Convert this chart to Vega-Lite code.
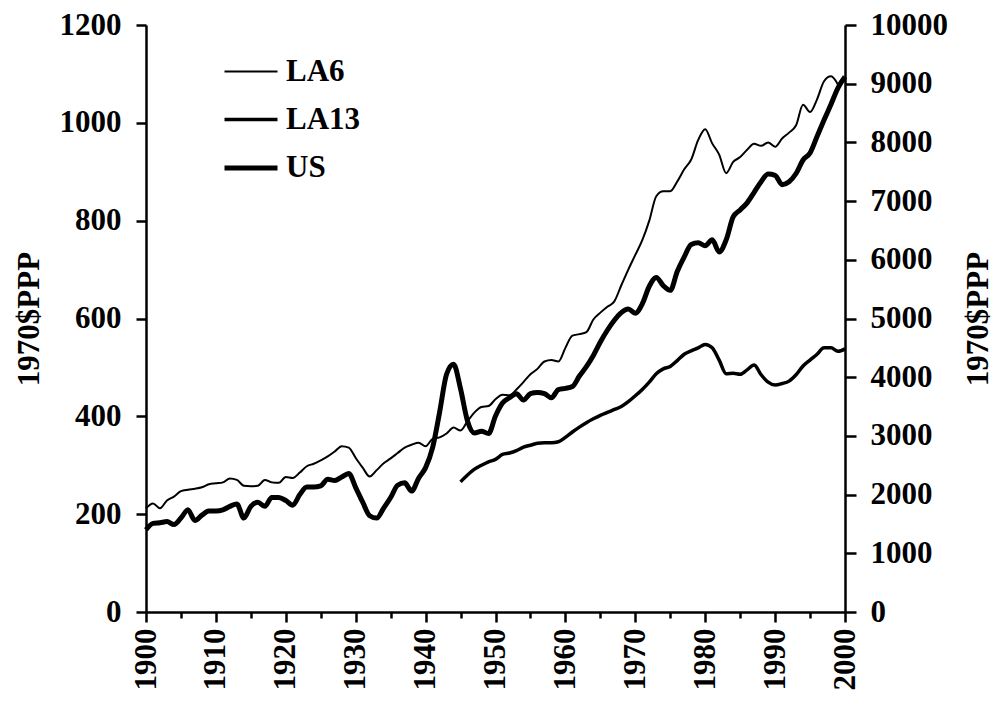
{
  "$schema": "https://vega.github.io/schema/vega-lite/v6.json",
  "width": 699,
  "height": 587,
  "autosize": "none",
  "padding": {"left": 146, "top": 25, "right": 150, "bottom": 93},
  "background": "white",
  "config": {
    "view": {"stroke": null},
    "font": "Liberation Serif",
    "axis": {
      "grid": false,
      "domainColor": "black",
      "domainWidth": 2.5,
      "tickColor": "black",
      "tickWidth": 2.5,
      "labelFont": "Liberation Serif",
      "labelFontWeight": "bold",
      "labelFontSize": 31,
      "labelColor": "black",
      "titleFont": "Liberation Serif",
      "titleFontWeight": "bold",
      "titleFontSize": 31,
      "titleColor": "black"
    },
    "legend": {
      "labelFont": "Liberation Serif",
      "labelFontWeight": "bold",
      "labelFontSize": 31,
      "labelColor": "black"
    }
  },
  "data": {"values": [
    {"series":"LA6","year":1900,"value":212},{"series":"LA6","year":1901,"value":222},{"series":"LA6","year":1902,"value":212},{"series":"LA6","year":1903,"value":228},{"series":"LA6","year":1904,"value":236},
    {"series":"LA6","year":1905,"value":247},{"series":"LA6","year":1906,"value":250},{"series":"LA6","year":1907,"value":252},{"series":"LA6","year":1908,"value":255},{"series":"LA6","year":1909,"value":261},
    {"series":"LA6","year":1910,"value":263},{"series":"LA6","year":1911,"value":265},{"series":"LA6","year":1912,"value":273},{"series":"LA6","year":1913,"value":270},{"series":"LA6","year":1914,"value":258},
    {"series":"LA6","year":1915,"value":257},{"series":"LA6","year":1916,"value":258},{"series":"LA6","year":1917,"value":270},{"series":"LA6","year":1918,"value":265},{"series":"LA6","year":1919,"value":264},
    {"series":"LA6","year":1920,"value":276},{"series":"LA6","year":1921,"value":274},{"series":"LA6","year":1922,"value":285},{"series":"LA6","year":1923,"value":298},{"series":"LA6","year":1924,"value":303},
    {"series":"LA6","year":1925,"value":310},{"series":"LA6","year":1926,"value":318},{"series":"LA6","year":1927,"value":328},{"series":"LA6","year":1928,"value":339},{"series":"LA6","year":1929,"value":336},
    {"series":"LA6","year":1930,"value":315},{"series":"LA6","year":1931,"value":295},{"series":"LA6","year":1932,"value":277},{"series":"LA6","year":1933,"value":290},{"series":"LA6","year":1934,"value":304},
    {"series":"LA6","year":1935,"value":314},{"series":"LA6","year":1936,"value":325},{"series":"LA6","year":1937,"value":336},{"series":"LA6","year":1938,"value":342},{"series":"LA6","year":1939,"value":346},
    {"series":"LA6","year":1940,"value":339},{"series":"LA6","year":1941,"value":354},{"series":"LA6","year":1942,"value":357},{"series":"LA6","year":1943,"value":365},{"series":"LA6","year":1944,"value":377},
    {"series":"LA6","year":1945,"value":371},{"series":"LA6","year":1946,"value":390},{"series":"LA6","year":1947,"value":408},{"series":"LA6","year":1948,"value":419},{"series":"LA6","year":1949,"value":421},
    {"series":"LA6","year":1950,"value":435},{"series":"LA6","year":1951,"value":444},{"series":"LA6","year":1952,"value":443},{"series":"LA6","year":1953,"value":455},{"series":"LA6","year":1954,"value":470},
    {"series":"LA6","year":1955,"value":486},{"series":"LA6","year":1956,"value":497},{"series":"LA6","year":1957,"value":512},{"series":"LA6","year":1958,"value":515},{"series":"LA6","year":1959,"value":512},
    {"series":"LA6","year":1960,"value":540},{"series":"LA6","year":1961,"value":565},{"series":"LA6","year":1962,"value":568},{"series":"LA6","year":1963,"value":572},{"series":"LA6","year":1964,"value":598},
    {"series":"LA6","year":1965,"value":612},{"series":"LA6","year":1966,"value":624},{"series":"LA6","year":1967,"value":635},{"series":"LA6","year":1968,"value":668},{"series":"LA6","year":1969,"value":700},
    {"series":"LA6","year":1970,"value":730},{"series":"LA6","year":1971,"value":760},{"series":"LA6","year":1972,"value":800},{"series":"LA6","year":1973,"value":850},{"series":"LA6","year":1974,"value":860},
    {"series":"LA6","year":1975,"value":860},{"series":"LA6","year":1976,"value":880},{"series":"LA6","year":1977,"value":905},{"series":"LA6","year":1978,"value":925},{"series":"LA6","year":1979,"value":965},
    {"series":"LA6","year":1980,"value":987},{"series":"LA6","year":1981,"value":958},{"series":"LA6","year":1982,"value":935},{"series":"LA6","year":1983,"value":897},{"series":"LA6","year":1984,"value":920},
    {"series":"LA6","year":1985,"value":930},{"series":"LA6","year":1986,"value":945},{"series":"LA6","year":1987,"value":957},{"series":"LA6","year":1988,"value":953},{"series":"LA6","year":1989,"value":960},
    {"series":"LA6","year":1990,"value":951},{"series":"LA6","year":1991,"value":968},{"series":"LA6","year":1992,"value":980},{"series":"LA6","year":1993,"value":995},{"series":"LA6","year":1994,"value":1037},
    {"series":"LA6","year":1995,"value":1022},{"series":"LA6","year":1996,"value":1048},{"series":"LA6","year":1997,"value":1085},{"series":"LA6","year":1998,"value":1095},{"series":"LA6","year":1999,"value":1078},
    {"series":"LA13","year":1945,"value":266},{"series":"LA13","year":1946,"value":280},{"series":"LA13","year":1947,"value":292},{"series":"LA13","year":1948,"value":300},{"series":"LA13","year":1949,"value":307},
    {"series":"LA13","year":1950,"value":312},{"series":"LA13","year":1951,"value":322},{"series":"LA13","year":1952,"value":325},{"series":"LA13","year":1953,"value":330},{"series":"LA13","year":1954,"value":337},
    {"series":"LA13","year":1955,"value":341},{"series":"LA13","year":1956,"value":345},{"series":"LA13","year":1957,"value":346},{"series":"LA13","year":1958,"value":346},{"series":"LA13","year":1959,"value":348},
    {"series":"LA13","year":1960,"value":357},{"series":"LA13","year":1961,"value":368},{"series":"LA13","year":1962,"value":378},{"series":"LA13","year":1963,"value":387},{"series":"LA13","year":1964,"value":395},
    {"series":"LA13","year":1965,"value":402},{"series":"LA13","year":1966,"value":408},{"series":"LA13","year":1967,"value":414},{"series":"LA13","year":1968,"value":420},{"series":"LA13","year":1969,"value":430},
    {"series":"LA13","year":1970,"value":442},{"series":"LA13","year":1971,"value":455},{"series":"LA13","year":1972,"value":470},{"series":"LA13","year":1973,"value":487},{"series":"LA13","year":1974,"value":497},
    {"series":"LA13","year":1975,"value":502},{"series":"LA13","year":1976,"value":514},{"series":"LA13","year":1977,"value":527},{"series":"LA13","year":1978,"value":534},{"series":"LA13","year":1979,"value":540},
    {"series":"LA13","year":1980,"value":547},{"series":"LA13","year":1981,"value":540},{"series":"LA13","year":1982,"value":515},{"series":"LA13","year":1983,"value":487},{"series":"LA13","year":1984,"value":488},
    {"series":"LA13","year":1985,"value":486},{"series":"LA13","year":1986,"value":495},{"series":"LA13","year":1987,"value":505},{"series":"LA13","year":1988,"value":485},{"series":"LA13","year":1989,"value":470},
    {"series":"LA13","year":1990,"value":464},{"series":"LA13","year":1991,"value":467},{"series":"LA13","year":1992,"value":472},{"series":"LA13","year":1993,"value":485},{"series":"LA13","year":1994,"value":503},
    {"series":"LA13","year":1995,"value":515},{"series":"LA13","year":1996,"value":527},{"series":"LA13","year":1997,"value":540},{"series":"LA13","year":1998,"value":540},{"series":"LA13","year":1999,"value":533},
    {"series":"LA13","year":2000,"value":538},
    {"series":"US","year":1900,"value":1400},{"series":"US","year":1901,"value":1510},{"series":"US","year":1902,"value":1520},{"series":"US","year":1903,"value":1540},{"series":"US","year":1904,"value":1490},
    {"series":"US","year":1905,"value":1600},{"series":"US","year":1906,"value":1740},{"series":"US","year":1907,"value":1560},{"series":"US","year":1908,"value":1650},{"series":"US","year":1909,"value":1720},
    {"series":"US","year":1910,"value":1720},{"series":"US","year":1911,"value":1740},{"series":"US","year":1912,"value":1800},{"series":"US","year":1913,"value":1840},{"series":"US","year":1914,"value":1600},
    {"series":"US","year":1915,"value":1800},{"series":"US","year":1916,"value":1870},{"series":"US","year":1917,"value":1800},{"series":"US","year":1918,"value":1950},{"series":"US","year":1919,"value":1950},
    {"series":"US","year":1920,"value":1900},{"series":"US","year":1921,"value":1820},{"series":"US","year":1922,"value":2000},{"series":"US","year":1923,"value":2130},{"series":"US","year":1924,"value":2130},
    {"series":"US","year":1925,"value":2150},{"series":"US","year":1926,"value":2260},{"series":"US","year":1927,"value":2240},{"series":"US","year":1928,"value":2300},{"series":"US","year":1929,"value":2360},
    {"series":"US","year":1930,"value":2120},{"series":"US","year":1931,"value":1870},{"series":"US","year":1932,"value":1640},{"series":"US","year":1933,"value":1600},{"series":"US","year":1934,"value":1770},
    {"series":"US","year":1935,"value":1950},{"series":"US","year":1936,"value":2160},{"series":"US","year":1937,"value":2200},{"series":"US","year":1938,"value":2060},{"series":"US","year":1939,"value":2280},
    {"series":"US","year":1940,"value":2460},{"series":"US","year":1941,"value":2800},{"series":"US","year":1942,"value":3400},{"series":"US","year":1943,"value":4050},{"series":"US","year":1944,"value":4220},
    {"series":"US","year":1945,"value":3800},{"series":"US","year":1946,"value":3250},{"series":"US","year":1947,"value":3050},{"series":"US","year":1948,"value":3080},{"series":"US","year":1949,"value":3040},
    {"series":"US","year":1950,"value":3340},{"series":"US","year":1951,"value":3560},{"series":"US","year":1952,"value":3650},{"series":"US","year":1953,"value":3720},{"series":"US","year":1954,"value":3610},
    {"series":"US","year":1955,"value":3720},{"series":"US","year":1956,"value":3740},{"series":"US","year":1957,"value":3720},{"series":"US","year":1958,"value":3650},{"series":"US","year":1959,"value":3790},
    {"series":"US","year":1960,"value":3810},{"series":"US","year":1961,"value":3840},{"series":"US","year":1962,"value":4020},{"series":"US","year":1963,"value":4180},{"series":"US","year":1964,"value":4370},
    {"series":"US","year":1965,"value":4600},{"series":"US","year":1966,"value":4800},{"series":"US","year":1967,"value":4970},{"series":"US","year":1968,"value":5100},{"series":"US","year":1969,"value":5160},
    {"series":"US","year":1970,"value":5090},{"series":"US","year":1971,"value":5250},{"series":"US","year":1972,"value":5550},{"series":"US","year":1973,"value":5700},{"series":"US","year":1974,"value":5560},
    {"series":"US","year":1975,"value":5480},{"series":"US","year":1976,"value":5800},{"series":"US","year":1977,"value":6050},{"series":"US","year":1978,"value":6260},{"series":"US","year":1979,"value":6290},
    {"series":"US","year":1980,"value":6240},{"series":"US","year":1981,"value":6340},{"series":"US","year":1982,"value":6134},{"series":"US","year":1983,"value":6340},{"series":"US","year":1984,"value":6730},
    {"series":"US","year":1985,"value":6850},{"series":"US","year":1986,"value":6970},{"series":"US","year":1987,"value":7150},{"series":"US","year":1988,"value":7330},{"series":"US","year":1989,"value":7460},
    {"series":"US","year":1990,"value":7440},{"series":"US","year":1991,"value":7280},{"series":"US","year":1992,"value":7330},{"series":"US","year":1993,"value":7470},{"series":"US","year":1994,"value":7700},
    {"series":"US","year":1995,"value":7820},{"series":"US","year":1996,"value":8100},{"series":"US","year":1997,"value":8380},{"series":"US","year":1998,"value":8650},{"series":"US","year":1999,"value":8930},
    {"series":"US","year":2000,"value":9117}
  ]},
  "encoding": {
    "x": {
      "field": "year",
      "type": "quantitative",
      "scale": {"domain": [1900, 2000], "nice": false, "zero": false},
      "axis": {
        "title": null,
        "values": [1900,1905,1910,1915,1920,1925,1930,1935,1940,1945,1950,1955,1960,1965,1970,1975,1980,1985,1990,1995,2000],
        "labelExpr": "datum.value % 10 === 0 ? '' + datum.value : ''",
        "tickSize": {"expr": "datum.value % 10 === 0 ? 10 : 6"},
        "labelAngle": -90,
        "labelAlign": "right",
        "labelBaseline": "middle",
        "labelPadding": 6,
        "labelOverlap": false,
        "labelFlush": false
      }
    },
    "strokeWidth": {
      "field": "series",
      "type": "nominal",
      "scale": {"domain": ["LA6", "LA13", "US"], "range": [2, 5, 8]},
      "legend": {
        "title": null,
        "orient": "none",
        "legendX": 76,
        "legendY": 19,
        "symbolType": "stroke",
        "symbolSize": 2809,
        "symbolStrokeColor": "black",
        "labelOffset": 6,
        "rowPadding": 4
      }
    }
  },
  "layer": [
    {
      "transform": [{"filter": "datum.series !== 'US'"}],
      "mark": {"type": "line", "interpolate": "monotone", "color": "black"},
      "encoding": {
        "y": {
          "field": "value",
          "type": "quantitative",
          "scale": {"domain": [0, 1200], "nice": false},
          "axis": {
            "orient": "left",
            "title": "1970$PPP",
            "values": [0,200,400,600,800,1000,1200],
            "format": "d",
            "tickSize": 10,
            "labelPadding": 15,
            "titlePadding": 14
          }
        }
      }
    },
    {
      "transform": [{"filter": "datum.series === 'US'"}],
      "mark": {"type": "line", "interpolate": "monotone", "color": "black"},
      "encoding": {
        "y": {
          "field": "value",
          "type": "quantitative",
          "scale": {"domain": [0, 10000], "nice": false},
          "axis": {
            "orient": "right",
            "title": "1970$PPP",
            "titleAngle": 270,
            "titleBaseline": "top",
            "values": [0,1000,2000,3000,4000,5000,6000,7000,8000,9000,10000],
            "format": "d",
            "tickSize": 11,
            "labelPadding": 14,
            "titlePadding": 16
          }
        }
      }
    }
  ],
  "resolve": {"scale": {"y": "independent"}}
}
